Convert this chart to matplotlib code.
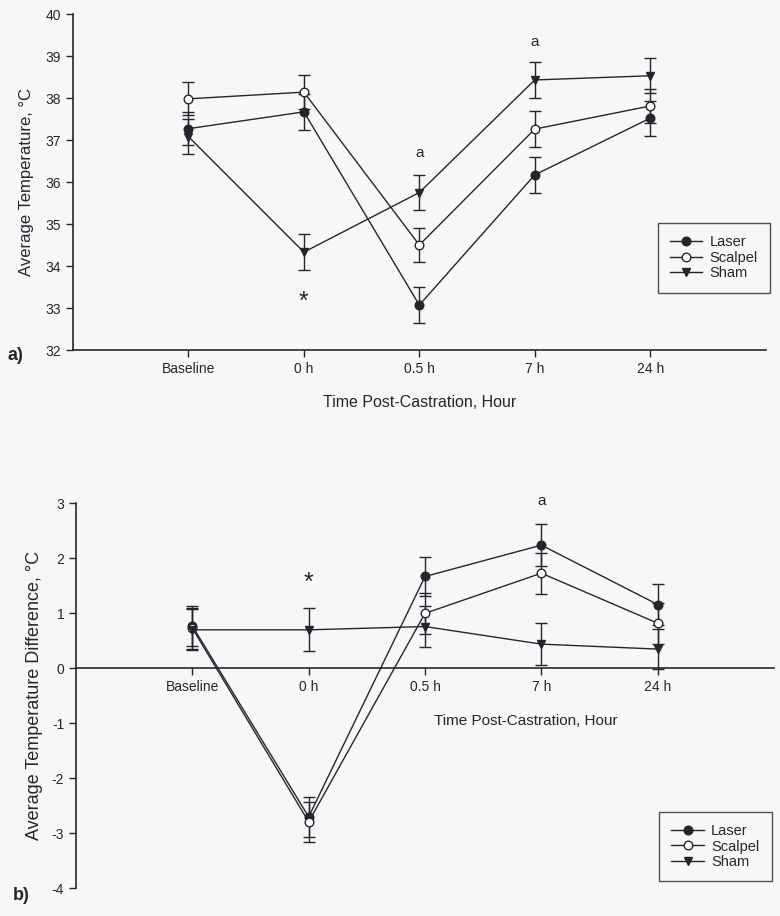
import numpy as np
import matplotlib
matplotlib.use("Agg")
import matplotlib.pyplot as plt

plt.rcParams['font.family'] = ['Liberation Sans', 'DejaVu Sans']
plt.rcParams['axes.unicode_minus'] = False

times = ['Baseline', '0 h', '0.5 h', '7 h', '24 h']

# panel a: average temperature
laser_a = [37.27, 37.67, 33.07, 36.17, 37.52]
laser_a_err = [0.40, 0.42, 0.42, 0.42, 0.42]
scalpel_a = [37.98, 38.14, 34.50, 37.26, 37.81]
scalpel_a_err = [0.39, 0.41, 0.41, 0.42, 0.40]
sham_a = [37.08, 34.33, 35.75, 38.43, 38.53]
sham_a_err = [0.42, 0.43, 0.42, 0.42, 0.42]

# panel b: average temperature difference
laser_b = [0.77, -2.70, 1.67, 2.24, 1.16]
laser_b_err = [0.36, 0.36, 0.36, 0.38, 0.37]
scalpel_b = [0.73, -2.79, 1.00, 1.73, 0.82]
scalpel_b_err = [0.37, 0.36, 0.37, 0.37, 0.37]
sham_b = [0.70, 0.70, 0.76, 0.44, 0.35]
sham_b_err = [0.37, 0.39, 0.38, 0.38, 0.37]

bg = '#f7f7f7'
ink = '#25252f'

fig = plt.figure(figsize=(7.8, 9.16), dpi=100, facecolor=bg)
ax1 = fig.add_axes([0.0936, 0.6179, 0.888, 0.3668], facecolor=bg)
ax2 = fig.add_axes([0.0974, 0.0302, 0.895, 0.4203], facecolor=bg)

x = np.arange(1, 6)

def draw(ax, series):
    handles = []
    for vals, errs, mk, fc, lab in series:
        h = ax.errorbar(x, vals, yerr=errs, color=ink, lw=1.0, marker=mk,
                        ms=6.2, mfc=fc, mec=ink, mew=1.0, capsize=4,
                        elinewidth=1.0, capthick=1.0, label=lab)
        handles.append(h[0])
    return handles

def add_legend(ax, handles, left, top):
    leg = ax.legend(handles=handles, labels=['Laser', 'Scalpel', 'Sham'],
                    loc='upper left', bbox_to_anchor=(left, top),
                    bbox_transform=fig.transFigure,
                    fontsize=10.5, frameon=True, fancybox=False,
                    handlelength=2.2, labelspacing=0.1, borderpad=0.85,
                    handletextpad=0.5, borderaxespad=0, labelcolor=ink)
    leg.get_frame().set_edgecolor(ink)
    leg.get_frame().set_facecolor(bg)
    leg.get_frame().set_linewidth(1.0)
    return leg

series_a = [(laser_a, laser_a_err, 'o', ink, 'Laser'),
            (scalpel_a, scalpel_a_err, 'o', 'white', 'Scalpel'),
            (sham_a, sham_a_err, 'v', ink, 'Sham')]
series_b = [(laser_b, laser_b_err, 'o', ink, 'Laser'),
            (scalpel_b, scalpel_b_err, 'o', 'white', 'Scalpel'),
            (sham_b, sham_b_err, 'v', ink, 'Sham')]

for ax in (ax1, ax2):
    for s in ('top', 'right'):
        ax.spines[s].set_visible(False)
    ax.spines['left'].set_color(ink)
    ax.spines['bottom'].set_color(ink)
    ax.spines['left'].set_linewidth(1.2)
    ax.spines['bottom'].set_linewidth(1.2)
    ax.tick_params(colors=ink, labelsize=10, length=5, width=1.0)
    ax.set_xticks(x)
    ax.set_xticklabels(times)
    ax.set_xlim(0, 6)

h1 = draw(ax1, series_a)
ax1.set_ylim(32, 40)
ax1.set_yticks(range(32, 41))
ax1.set_ylabel('Average Temperature, °C', fontsize=12, color=ink, labelpad=8)
ax1.set_xlabel('Time Post-Castration, Hour', fontsize=11.5, color=ink, labelpad=14)
ax1.text(3, 36.69, 'a', ha='center', va='center', fontsize=11, color=ink)
ax1.text(4, 39.34, 'a', ha='center', va='center', fontsize=11, color=ink)
ax1.text(2, 33.15, '*', ha='center', va='center', fontsize=18, color=ink)
add_legend(ax1, h1, 0.8436, 0.7566)

h2 = draw(ax2, series_b)
ax2.set_ylim(-4, 3)
ax2.set_yticks(range(-4, 4))
ax2.spines['bottom'].set_position(('data', 0))
ax2.set_ylabel('Average Temperature Difference, °C', fontsize=13, color=ink,
               labelpad=6)
ax2.text(3.87, -0.96, 'Time Post-Castration, Hour', ha='center', va='center',
         fontsize=11, color=ink)
ax2.text(2, 1.55, '*', ha='center', va='center', fontsize=18, color=ink)
ax2.text(4, 3.05, 'a', ha='center', va='center', fontsize=11, color=ink)
add_legend(ax2, h2, 0.845, 0.1139)

fig.text(0.010, 0.6124, 'a)', fontsize=13, fontweight='bold', color=ink,
         va='center')
fig.text(0.016, 0.0229, 'b)', fontsize=13, fontweight='bold', color=ink,
         va='center')

fig.savefig('out.png', dpi=100, facecolor=bg)
